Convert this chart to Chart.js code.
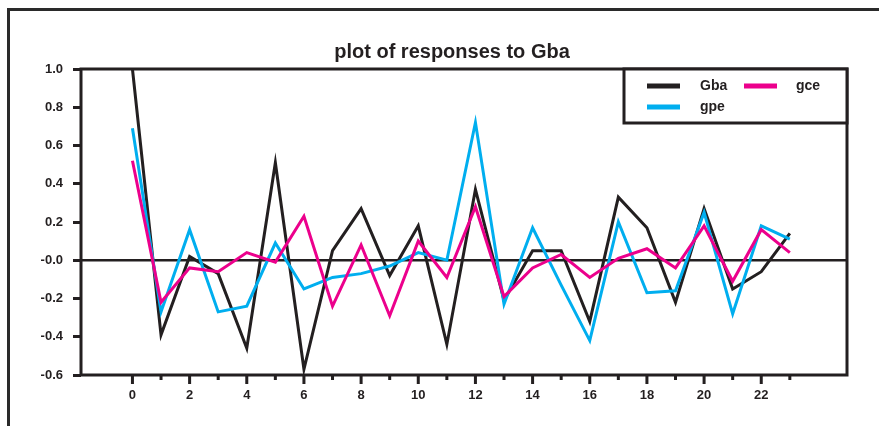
<!DOCTYPE html>
<html>
<head>
<meta charset="utf-8">
<script src="https://cdn.jsdelivr.net/npm/chart.js@4"></script>
<style>
  html, body { margin: 0; padding: 0; background: #fff; }
  #wrap { position: relative; width: 879px; height: 426px; overflow: hidden; }
  #frame { position: absolute; left: 7px; top: 8px; width: 1000px; height: 1000px; border-left: 3px solid #2a2a2a; border-top: 3px solid #2a2a2a; }
  canvas { position: absolute; left: 0; top: 0; }
</style>
</head>
<body>
<div id="wrap">
  <div id="frame"></div>
  <canvas id="chart" width="879" height="426"></canvas>
</div>
<script>
const title = 'plot of responses to Gba';
const lags = [0, 1, 2, 3, 4, 5, 6, 7, 8, 9, 10, 11, 12, 13, 14, 15, 16, 17, 18, 19, 20, 21, 22, 23];
const gba = [1.0, -0.39, 0.02, -0.07, -0.46, 0.51, -0.57, 0.05, 0.27, -0.08, 0.18, -0.44, 0.37, -0.21, 0.05, 0.05, -0.32, 0.33, 0.17, -0.22, 0.27, -0.15, -0.06, 0.14];
const gpe = [0.69, -0.27, 0.16, -0.27, -0.24, 0.09, -0.15, -0.09, -0.07, -0.03, 0.04, 0.0, 0.72, -0.23, 0.17, -0.13, -0.42, 0.20, -0.17, -0.16, 0.25, -0.28, 0.18, 0.11];
const gce = [0.52, -0.22, -0.04, -0.06, 0.04, -0.01, 0.23, -0.24, 0.08, -0.29, 0.10, -0.09, 0.28, -0.19, -0.04, 0.03, -0.09, 0.01, 0.06, -0.04, 0.18, -0.11, 0.16, 0.04];
const yTicks = [-0.6, -0.4, -0.2, 0.0, 0.2, 0.4, 0.6, 0.8, 1.0];

const INK = '#231f20';
const FONT = '"Liberation Sans", Arial, Helvetica, sans-serif';

function toPoints(values) {
  return values.map((v, i) => ({ x: lags[i], y: v }));
}

const framePlugin = {
  id: 'framePlugin',
  beforeDatasetsDraw(chart) {
    const { ctx, chartArea, scales } = chart;
    const y0 = scales.y.getPixelForValue(0);
    ctx.save();
    ctx.strokeStyle = INK;
    ctx.lineWidth = 2.5;
    ctx.beginPath();
    ctx.moveTo(chartArea.left, y0);
    ctx.lineTo(chartArea.right, y0);
    ctx.stroke();
    ctx.restore();
  },
  afterDraw(chart) {
    const { ctx, chartArea, scales } = chart;
    ctx.save();

    // title, centred a little right of the canvas middle as in the original
    ctx.fillStyle = INK;
    ctx.font = 'bold 20px ' + FONT;
    ctx.textAlign = 'center';
    ctx.textBaseline = 'middle';
    ctx.fillText(title, 452, 52);
    ctx.textAlign = 'left';

    ctx.strokeStyle = INK;
    ctx.lineWidth = 3;
    ctx.strokeRect(chartArea.left, chartArea.top, chartArea.right - chartArea.left, chartArea.bottom - chartArea.top);

    // x tick marks: long on even lags, short on odd ones
    ctx.beginPath();
    lags.forEach((v) => {
      const x = scales.x.getPixelForValue(v);
      ctx.moveTo(x, chartArea.bottom);
      ctx.lineTo(x, chartArea.bottom + (v % 2 === 0 ? 9 : 5));
    });
    ctx.stroke();

    // legend box, laid out in two columns like the original
    const right = chartArea.right;
    const top = chartArea.top;
    const left = right - 223;
    const bottom = top + 54;
    ctx.fillStyle = '#fff';
    ctx.fillRect(left, top, right - left, bottom - top);
    ctx.strokeRect(left, top, right - left, bottom - top);

    const items = [
      { ds: 0, sx: left + 23, tx: left + 76, y: top + 17 },
      { ds: 2, sx: left + 120, tx: left + 172, y: top + 17 },
      { ds: 1, sx: left + 23, tx: left + 76, y: top + 38 }
    ];
    ctx.font = 'bold 14px ' + FONT;
    items.forEach((it) => {
      const ds = chart.data.datasets[it.ds];
      ctx.strokeStyle = ds.borderColor;
      ctx.lineWidth = 5;
      ctx.beginPath();
      ctx.moveTo(it.sx, it.y);
      ctx.lineTo(it.sx + 33, it.y);
      ctx.stroke();
      ctx.fillStyle = INK;
      ctx.fillText(ds.label, it.tx, it.y);
    });
    ctx.restore();
  }
};

new Chart(document.getElementById('chart'), {
  type: 'line',
  data: {
    datasets: [
      { label: 'Gba', data: toPoints(gba), borderColor: INK, order: 2 },
      { label: 'gpe', data: toPoints(gpe), borderColor: '#00aeef', order: 1 },
      { label: 'gce', data: toPoints(gce), borderColor: '#ec008c', order: 0 }
    ]
  },
  options: {
    responsive: false,
    animation: false,
    layout: { padding: { left: 0, right: 32, top: 69, bottom: 0 } },
    elements: {
      line: { borderWidth: 3, tension: 0, borderJoinStyle: 'miter' },
      point: { radius: 0 }
    },
    plugins: {
      legend: { display: false },
      tooltip: { enabled: false },
      title: { display: false }
    },
    scales: {
      x: {
        type: 'linear',
        min: -1.8,
        max: 25,
        afterBuildTicks: (scale) => { scale.ticks = lags.map((v) => ({ value: v })); },
        afterFit: (scale) => { scale.height = 51; },
        border: { display: false },
        grid: { drawOnChartArea: false, drawTicks: false },
        ticks: {
          autoSkip: false,
          maxRotation: 0,
          padding: 13,
          color: INK,
          font: { family: FONT, size: 13, weight: 'bold' },
          callback: (v) => (v % 2 === 0 ? String(v) : '')
        }
      },
      y: {
        min: -0.6,
        max: 1.0,
        afterBuildTicks: (scale) => { scale.ticks = yTicks.map((v) => ({ value: v })); },
        afterFit: (scale) => { scale.width = 81; },
        border: { display: false },
        grid: { drawOnChartArea: false, color: INK, lineWidth: 3, tickLength: 8 },
        ticks: {
          padding: 10,
          color: INK,
          font: { family: FONT, size: 13, weight: 'bold' },
          callback: (v) => (Math.abs(v) < 1e-9 ? '-0.0' : v.toFixed(1))
        }
      }
    }
  },
  plugins: [framePlugin]
});
</script>
</body>
</html>
